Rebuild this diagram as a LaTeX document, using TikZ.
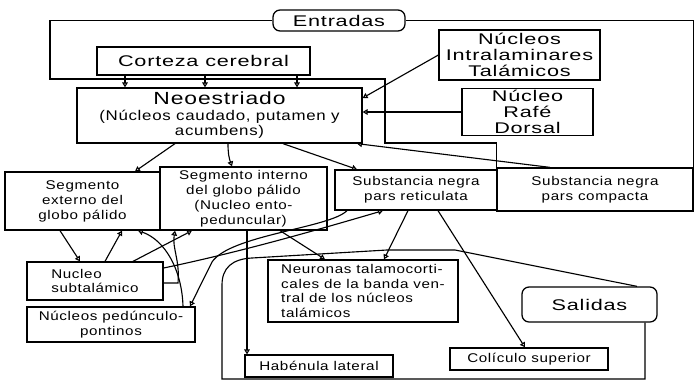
\documentclass[tikz,border=0pt]{standalone}
\usepackage{fontspec}
\setmainfont[FakeStretch=1.2,LetterSpace=5]{Liberation Sans}
\usetikzlibrary{arrows.meta,calc}
\def\px{0.025cm}
\newcommand{\chica}{\fontsize{9}{10.6}\selectfont}
\newcommand{\media}{\fontsize{10}{11}\selectfont}
\newcommand{\grande}{\addfontfeature{FakeStretch=1.4}\fontsize{11}{11.5}\selectfont}
\tikzstyle{caja}=[draw, line width=0.9pt, align=center, inner sep=1pt, font=\chica]
\tikzstyle{salida}=[caja, rounded corners=5pt, font=\grande]
\tikzstyle{via}=[line width=0.8pt, -{Triangle[open,length=3.5pt,width=4pt]}]
\tikzstyle{linea}=[line width=0.8pt]
\newcommand{\caja}[6][caja]{
\node[#1, minimum width={#4*\px}, minimum height={#5*\px}] (#2) at (#3) {#6};
}
\begin{document}
\begin{tikzpicture}[x=0.025cm,y=-0.025cm]
\useasboundingbox (0,0) rectangle (698,382);
% entradas
\caja[salida]{entradas}{339,20.5}{132}{21}{Entradas}
\caja[caja,font=\grande]{corteza}{203.5,61}{213}{28}{Corteza cerebral}
\caja[caja,font=\grande]{nit}{519.5,55}{161}{50}{Núcleos\\Intralaminares\\Talámicos}
\caja[caja,font=\grande]{nrd}{527.5,112}{131}{46}{Núcleo\\Rafé\\Dorsal}
\caja[caja,font=\media]{neo}{219.5,115.5}{285}{55}{{\addfontfeature{FakeStretch=1.3}\fontsize{12.5}{14}\selectfont Neoestriado}\\(Núcleos caudado, putamen y\\acumbens)}
% ganglios
\caja{segext}{82.5,201}{155}{58}{Segmento\\externo del\\globo pálido}
\caja{segint}{243.5,198.5}{167}{63}{Segmento interno\\del globo pálido\\(Nucleo ento-\\peduncular)}
\caja{snr}{416,190}{162}{40}{Substancia negra\\pars reticulata}
\caja{snc}{595,189.5}{196}{43}{Substancia negra\\pars compacta}
\caja[caja,align=left]{nst}{95,281}{136}{38}{Nucleo\\subtalámico}
\caja{npp}{111,324.5}{168}{35}{Núcleos pedúnculo-\\pontinos}
% salidas
\caja[caja,align=left]{ntc}{363,291}{190}{62}{Neuronas talamocorti-\\cales de la banda ven-\\tral de los núcleos\\talámicos}
\caja{hab}{319,366}{148}{22}{Habénula lateral}
\caja{col}{529,359}{158}{22}{Colículo superior}
\caja[salida]{sal}{589.5,304.5}{135}{35}{Salidas}

\coordinate (eAbajo) at (50,79);
\coordinate (eDer) at (385,143);
\draw[linea] (entradas.west) -| (eAbajo) -| (eDer) -| (snc.north west);
\draw[linea] (entradas.east) -| (snc.north east);
\foreach \xx in {125,205,297}
  \draw[via] (\xx,0 |- corteza.south) -- (\xx,0 |- neo.north);
\draw[via] (nit.west) -- (neo.east |- 0,98);
\draw[via] (nrd.west) -- (neo.east |- nrd.west);
\draw[via] (550,0 |- snc.north) -- (357,0 |- neo.south);

\draw[via] (175,0 |- neo.south) -- (135,0 |- segext.north);
\draw[via] (228,0 |- neo.south) to[bend right=10] (232,0 |- segint.north);
\draw[via] (283,0 |- neo.south) -- (357,0 |- snr.north);

\draw[via] (60,0 |- segext.south) -- (80,0 |- nst.north);
\draw[via] (105,0 |- nst.north) -- (122,0 |- segext.south);
\draw[via] (133,0 |- nst.north) -- (192,0 |- segint.south);
\draw[via] (183,0 |- npp.north) .. controls (182,270) and (165,240) .. (138,0 |- segext.south);
\draw[via] (nst.east |- 0,283) -- (178,283) .. controls (180,260) and (172,248) .. (175,0 |- segint.south);
\draw[via] (nst.east |- 0,268) .. controls (240,252) and (310,232) .. (383,0 |- snr.south);
\draw[via] (347,0 |- snr.south) .. controls (330,228) and (230,235) .. (212,262) -- (190,0 |- npp.north);

\draw[via] (280,0 |- segint.south) -- (325,0 |- ntc.north);
\draw[via] (408,0 |- snr.south) -- (384,0 |- ntc.north);
\draw[via] (247,0 |- segint.south) -- (247,0 |- hab.north);
\draw[via] (438,0 |- snr.south) -- (525,0 |- col.north);

\coordinate (sA) at (645,379);
\coordinate (sB) at (222,285);
\draw[linea] (645,0 |- sal.south) -- (sA) -| (sB) .. controls (222,268) and (232,259) .. (252,258) -- (387,250) -- (455,250) -- (637,0 |- sal.north);
\end{tikzpicture}
\end{document}
